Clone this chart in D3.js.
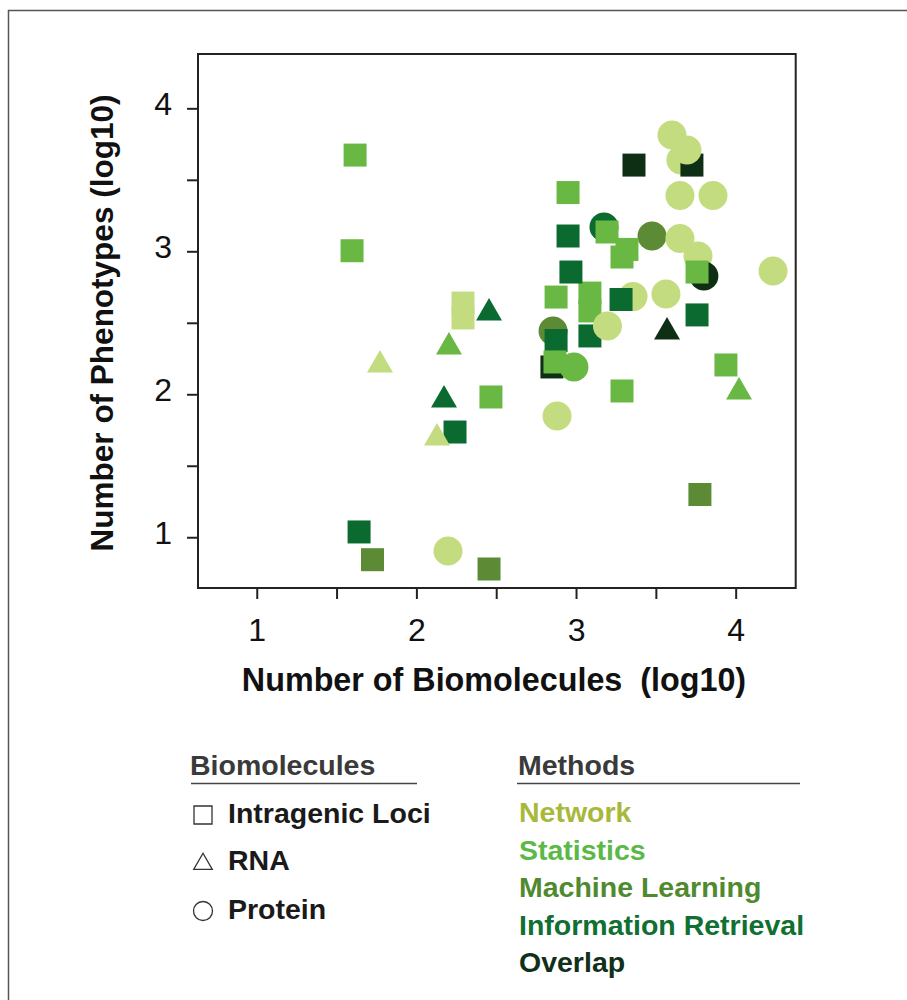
<!DOCTYPE html>
<html>
<head>
<meta charset="utf-8">
<script src="https://cdn.jsdelivr.net/npm/d3@7"></script>
<style>
  html, body { margin: 0; padding: 0; background: #fff; }
  svg { display: block; }
  text { font-family: "Liberation Sans", Arial, Helvetica, sans-serif; }
</style>
</head>
<body>
<svg id="chart" width="907" height="1000"></svg>
<script>
// ---------- data ----------
const methods = ["Network", "Statistics", "Machine Learning", "Information Retrieval", "Overlap"];
const methodCodes = ["NET", "STA", "ML", "IR", "OV"];
const methodMarkerColors = ["#c4dc80", "#69b843", "#5c8a35", "#0b6a2f", "#0f2f15"];
const methodTextColors = ["#a8b83a", "#5cb847", "#4f8a2f", "#107031", "#10301a"];
const biomolecules = ["Intragenic Loci", "RNA", "Protein"];
const biomoleculeCodes = ["sq", "tri", "cir"];

const xDomain = [0.632, 4.376];
const yDomain = [0.645, 4.38];
const xTickValues = [1, 1.5, 2, 2.5, 3, 3.5, 4];
const xTickLabels = ["1", "", "2", "", "3", "", "4"];
const yTickValues = [1, 1.5, 2, 2.5, 3, 3.5, 4];
const yTickLabels = ["1", "", "2", "", "3", "", "4"];

// points in drawing order (back to front)
const pointShape = ["sq","sq","sq","sq","tri","tri","tri","tri","sq","tri",
                    "sq","sq","sq","cir","sq","sq","sq","tri","sq","cir",
                    "sq","tri","cir","sq","sq","sq","cir","sq","sq","sq",
                    "sq","sq","cir","sq","cir","cir","cir","sq","cir","sq",
                    "sq","sq","sq","sq","cir","sq","cir","cir","cir","cir",
                    "cir","cir","cir","sq","cir"];
const pointMethod = ["STA","STA","NET","NET","IR","NET","STA","IR","IR","NET",
                     "STA","IR","ML","NET","ML","ML","STA","STA","STA","NET",
                     "IR","OV","ML","IR","OV","STA","STA","STA","STA","IR",
                     "STA","IR","NET","IR","NET","NET","IR","STA","ML","STA",
                     "STA","IR","STA","OV","NET","OV","NET","NET","NET","NET",
                     "NET","NET","OV","STA","NET"];
const pointX = [1.616,1.597,2.292,2.292,2.455,1.772,2.204,2.173,2.242,2.129,
                2.467,1.641,1.725,2.198,2.455,3.776,3.939,4.021,3.288,2.881,
                3.758,3.570,2.856,2.875,2.849,2.868,2.987,3.087,3.087,3.087,
                2.875,2.968,3.357,3.282,3.197,3.563,3.175,3.194,3.476,3.319,
                3.288,2.950,2.950,3.363,3.657,3.726,3.601,3.695,3.651,3.858,
                3.651,3.764,3.801,3.758,4.234];
const pointY = [3.673,3.004,2.638,2.534,2.569,2.205,2.331,1.960,1.736,1.694,
                1.981,1.037,0.843,0.904,0.778,1.299,2.205,2.016,2.023,1.848,
                2.555,2.436,2.443,2.376,2.191,2.226,2.191,2.708,2.583,2.408,
                2.680,2.855,2.683,2.663,2.478,2.701,3.170,3.135,3.107,3.013,
                2.960,3.107,3.411,3.603,3.638,3.603,3.813,3.708,3.390,3.390,
                3.089,2.967,2.827,2.855,2.862];

// ---------- layout ----------
const svg = d3.select("#chart");
const box = {left: 198, top: 54, right: 795.7, bottom: 588};

const x = d3.scaleLinear().domain(xDomain).range([box.left, box.right]);
const y = d3.scaleLinear().domain(yDomain).range([box.bottom, box.top]);
const color = d3.scaleOrdinal().domain(methodCodes).range(methodMarkerColors);
const symbolType = d3.scaleOrdinal().domain(biomoleculeCodes)
  .range([d3.symbolSquare, d3.symbolTriangle, d3.symbolCircle]);
const symbolSize = d3.scaleOrdinal().domain(biomoleculeCodes).range([23 * 23, 292, Math.PI * 14.5 * 14.5]);

// outer frame
svg.append("rect").attr("x", 8.5).attr("y", 10.5).attr("width", 920).attr("height", 1010)
  .attr("fill", "none").attr("stroke", "#555").attr("stroke-width", 1.5);

// plot box
svg.append("rect").attr("x", box.left).attr("y", box.top)
  .attr("width", box.right - box.left).attr("height", box.bottom - box.top)
  .attr("fill", "none").attr("stroke", "#222").attr("stroke-width", 2);

// axes
const yAxis = d3.axisLeft(y).tickValues(yTickValues).tickSize(11).tickPadding(15)
  .tickFormat((d, i) => yTickLabels[i]);
const gy = svg.append("g").attr("transform", `translate(${box.left},0)`).call(yAxis);
gy.select(".domain").remove();
gy.selectAll(".tick line").attr("stroke", "#222").attr("stroke-width", 2);
gy.selectAll(".tick text").attr("font-size", 32).attr("fill", "#111")
  .attr("dy", null).attr("y", 6).style("font-family", '"Liberation Sans", Arial, sans-serif');

const xAxis = d3.axisBottom(x).tickValues(xTickValues).tickSize(11).tickPadding(19)
  .tickFormat((d, i) => xTickLabels[i]);
const gx = svg.append("g").attr("transform", `translate(0,${box.bottom})`).call(xAxis);
gx.select(".domain").remove();
gx.selectAll(".tick line").attr("stroke", "#222").attr("stroke-width", 2);
gx.selectAll(".tick text").attr("font-size", 32).attr("fill", "#111")
  .style("font-family", '"Liberation Sans", Arial, sans-serif');

// axis titles
svg.append("text").attr("x", 494).attr("y", 691).attr("text-anchor", "middle")
  .attr("font-size", 32.3).attr("font-weight", "bold").attr("fill", "#111")
  .style("white-space", "pre")
  .text("Number of Biomolecules  (log10)");
svg.append("text").attr("transform", "translate(113,323) rotate(-90)").attr("text-anchor", "middle")
  .attr("font-size", 31.5).attr("font-weight", "bold").attr("fill", "#111")
  .text("Number of Phenotypes (log10)");

// points
const pts = d3.range(pointX.length).map(i => ({
  x: pointX[i], y: pointY[i], shape: pointShape[i], method: pointMethod[i]
}));
const sym = d3.symbol();
svg.append("g").selectAll("path").data(pts).join("path")
  .attr("transform", d => `translate(${x(d.x)},${y(d.y)})`)
  .attr("d", d => sym.type(symbolType(d.shape)).size(symbolSize(d.shape))())
  .attr("fill", d => color(d.method));

// ---------- legend ----------
const lg = svg.append("g");
lg.append("text").attr("x", 190).attr("y", 775).attr("font-size", 28.5).attr("font-weight", "bold")
  .attr("fill", "#3a3a3a").text("Biomolecules");
lg.append("line").attr("x1", 191).attr("x2", 417).attr("y1", 783.5).attr("y2", 783.5)
  .attr("stroke", "#444").attr("stroke-width", 1.6);
lg.append("text").attr("x", 518).attr("y", 775).attr("font-size", 28.5).attr("font-weight", "bold")
  .attr("fill", "#3a3a3a").text("Methods");
lg.append("line").attr("x1", 517).attr("x2", 800).attr("y1", 783.5).attr("y2", 783.5)
  .attr("stroke", "#444").attr("stroke-width", 1.6);

const bioRowY = [823, 870, 919];
const bioSymSize = [18 * 18, 150, Math.PI * 9.5 * 9.5];
const bioSymCy = [815, 864, 911];
biomolecules.forEach((name, i) => {
  lg.append("path")
    .attr("transform", `translate(203,${bioSymCy[i]})`)
    .attr("d", d3.symbol().type(symbolType(biomoleculeCodes[i])).size(bioSymSize[i])())
    .attr("fill", "none").attr("stroke", "#333").attr("stroke-width", 1.3);
  lg.append("text").attr("x", 228).attr("y", bioRowY[i]).attr("font-size", 28.5)
    .attr("font-weight", "bold").attr("fill", "#1a1a1a").text(name);
});

methods.forEach((name, i) => {
  lg.append("text").attr("x", 519).attr("y", 822 + i * 37.6).attr("font-size", 28.5)
    .attr("font-weight", "bold").attr("fill", methodTextColors[i]).text(name);
});
</script>
</body>
</html>
